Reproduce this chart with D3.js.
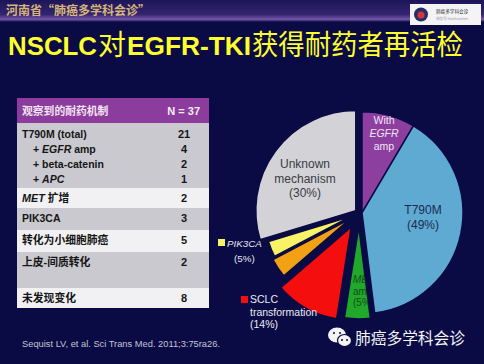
<!DOCTYPE html>
<html>
<head>
<meta charset="utf-8">
<script src="https://cdn.jsdelivr.net/npm/d3@7"></script>
<style>
body { margin: 0; background: #0a0a44; }
svg { display: block; }
</style>
</head>
<body>
<svg id="chart" width="484" height="364"></svg>
<script>
// ---- data ----
var bannerText = "河南省“肺癌多学科会诊”";
var titleParts = ["NSCLC", "对", "EGFR-TKI", "获得耐药者再活检"];
var tableHead = ["观察到的耐药机制", "N = 37"];
var mechanisms = ["T790M (total)", "+ *EGFR* amp", "+ beta-catenin", "+ *APC*", "*MET* 扩增", "PIK3CA", "转化为小细胞肺癌", "上皮-间质转化", "未发现变化"];
var counts = [21, 4, 2, 1, 2, 3, 5, 2, 8];
var rowBlock = [0, 0, 0, 0, 1, 2, 3, 4, 5]; // shaded block each line sits in

var sliceNames = ["EGFR amp", "T790M", "MET amp", "SCLC", "EMT", "PIK3CA", "Unknown"];
var sliceShares = [8.5, 39.5, 4.5, 11.2, 3.6, 3.0, 29.7];
var sliceColors = ["#8d3f9f", "#5eaad3", "#1fa82a", "#f40e0e", "#f2a114", "#f7f266", "#d3d3d7"];

var labelEgfr = ["With", "*EGFR*", "amp"];
var labelT790 = ["T790M", "(49%)"];
var labelUnknown = ["Unknown", "mechanism", "(30%)"];
var labelPik = ["*PIK3CA*", "(5%)"];
var labelMet = ["*MET*", "amp", "(5%)"];
var labelSclc = ["SCLC", "transformation", "(14%)"];

var sourceText = "Sequist LV, et al. Sci Trans Med. 2011;3:75ra26.";
var watermark = "肺癌多学科会诊";

var LATIN = "'Liberation Sans', Arial, sans-serif";
var CJK = "'Noto Sans CJK SC', sans-serif";
var bg = "#0a0a44";

var svg = d3.select("#chart");
var defs = svg.append("defs");

svg.append("rect").attr("width", 484).attr("height", 364).attr("fill", bg);

// top banner
var grad = defs.append("linearGradient").attr("id", "band").attr("x1", 0).attr("x2", 0).attr("y1", 0).attr("y2", 1);
grad.append("stop").attr("offset", "0%").attr("stop-color", "#1c1658");
grad.append("stop").attr("offset", "65%").attr("stop-color", "#33246f");
grad.append("stop").attr("offset", "88%").attr("stop-color", "#7356a6");
grad.append("stop").attr("offset", "100%").attr("stop-color", bg);
svg.append("rect").attr("x", 0).attr("y", 0).attr("width", 484).attr("height", 22).attr("fill", "url(#band)");

svg.append("text")
  .attr("x", 6).attr("y", 15)
  .attr("font-family", CJK).attr("font-weight", "bold").attr("font-size", 12)
  .attr("fill", "#d6b679")
  .text(bannerText);

// little logo box top right
var logo = svg.append("g");
logo.append("rect").attr("x", 410).attr("y", 4).attr("width", 71).attr("height", 21).attr("fill", "#f4f4f6");
logo.append("circle").attr("cx", 421).attr("cy", 14.5).attr("r", 7).attr("fill", "#24306a");
logo.append("circle").attr("cx", 421).attr("cy", 15).attr("r", 3.5).attr("fill", "#d8343a");
logo.append("text").attr("x", 436).attr("y", 12.5).attr("font-family", CJK).attr("font-size", 4.6)
  .attr("fill", "#333").text("肺癌多学科会诊");
logo.append("text").attr("x", 436).attr("y", 20).attr("font-family", CJK).attr("font-size", 3.6)
  .attr("fill", "#999").text("微信号  feiaihuizhen");

// title: latin bold, CJK regular; each run squeezed into the width it has on the slide
var titleWidths = [89, 28, 124, 211];
var tx = 8;
titleParts.forEach(function(part, i) {
  var cjk = /[\u4e00-\u9fff]/.test(part);
  svg.append("text")
    .attr("x", tx).attr("y", 55)
    .attr("font-family", cjk ? CJK : LATIN)
    .attr("font-weight", cjk ? "normal" : "bold")
    .attr("font-size", cjk ? 28 : 26)
    .attr("textLength", titleWidths[i]).attr("lengthAdjust", "spacingAndGlyphs")
    .attr("fill", "#ffff2e")
    .text(part);
  tx += titleWidths[i] + 1;
});

// writes "a *b* c" with the starred parts in italics
function richText(sel, str) {
  str.split("*").forEach(function(p, i) {
    if (p === "") return;
    var t = sel.append("tspan").text(p);
    if (i % 2 === 1) t.attr("font-style", "italic");
  });
  return sel;
}

// ---- table ----
var tx0 = 17, tx1 = 209, valX = 184;
var blockTops = [123, 188, 208, 230, 252, 288, 308];
var blockFill = ["#c9c9cf", "#f1f1f3"];

svg.append("rect").attr("x", tx0).attr("y", 98).attr("width", tx1 - tx0).attr("height", 25).attr("fill", "#8c3c9d");
svg.append("text").attr("x", 22).attr("y", 115)
  .attr("font-family", CJK).attr("font-weight", "bold").attr("font-size", 10.8)
  .attr("fill", "#f3e6f4").text(tableHead[0]);
svg.append("text").attr("x", 200).attr("y", 115).attr("text-anchor", "end")
  .attr("font-family", LATIN).attr("font-weight", "bold").attr("font-size", 11)
  .attr("fill", "#f6f0f8").text(tableHead[1]);

d3.range(blockTops.length - 1).forEach(function(b) {
  svg.append("rect")
    .attr("x", tx0).attr("y", blockTops[b])
    .attr("width", tx1 - tx0).attr("height", blockTops[b + 1] - blockTops[b])
    .attr("fill", blockFill[b % 2]);
});

var lineInBlock = {};
mechanisms.forEach(function(m, i) {
  var b = rowBlock[i];
  var k = lineInBlock[b] || 0;
  lineInBlock[b] = k + 1;
  var y = blockTops[b] + (b === 0 ? 15 : 14) + k * 15;
  var indent = m.charAt(0) === "+" ? 11 : 0;
  var cjk = /[\u4e00-\u9fff]/.test(m);
  var t = svg.append("text").attr("x", 22 + indent).attr("y", y)
    .attr("font-family", cjk ? LATIN + ", " + CJK : LATIN)
    .attr("font-weight", "bold").attr("font-size", cjk ? 10.8 : 10.5)
    .attr("fill", "#161616");
  richText(t, m);
  svg.append("text").attr("x", valX).attr("y", y).attr("text-anchor", "middle")
    .attr("font-family", LATIN).attr("font-weight", "bold").attr("font-size", 11)
    .attr("fill", "#161616").text(counts[i]);
});

// ---- pie ----
// the slide's pie is pulled apart unevenly: the lower-left wedges sit further out and a bit smaller
var cx = 359, cy = 213;
var radii = [101, 101, 92, 93, 87, 85, 100];
var explode = [3, 3, 14, 16, 11, 10, 4];
var pie = d3.pie().sort(null).value(function(d) { return d; })(sliceShares);
var arc = d3.arc().innerRadius(0).outerRadius(function(d, i) { return radii[d.index]; });
// T790M and its EGFR amp sub-slice move out together, the rest on their own
var groupMid = (pie[0].startAngle + pie[1].endAngle) / 2;
function shift(d, i) {
  var a = i < 2 ? groupMid : (d.startAngle + d.endAngle) / 2;
  return [Math.sin(a) * explode[i], -Math.cos(a) * explode[i]];
}

var pg = svg.append("g").attr("transform", "translate(" + cx + "," + cy + ")");
pg.selectAll("path.slice")
  .data(pie)
  .join("path")
  .attr("class", "slice")
  .attr("d", arc)
  .attr("transform", function(d, i) { return "translate(" + shift(d, i) + ")"; })
  .attr("fill", function(d, i) { return sliceColors[i]; })
  .attr("stroke", bg)
  .attr("stroke-width", 1.5);

// MET label sits under the blue wedge, so clip it to the green wedge
var metIdx = sliceNames.indexOf("MET amp");
var metShift = shift(pie[metIdx], metIdx);
defs.append("clipPath").attr("id", "metClip")
  .append("path")
  .attr("d", arc(pie[metIdx]))
  .attr("transform", "translate(" + (cx + metShift[0]) + "," + (cy + metShift[1]) + ")");

function block(lines, x, y0, lh, opts) {
  var g = svg.append("g");
  if (opts.clip) g.attr("clip-path", "url(#" + opts.clip + ")");
  lines.forEach(function(l, i) {
    var t = g.append("text")
      .attr("x", Array.isArray(x) ? x[i] : x).attr("y", y0 + i * lh)
      .attr("text-anchor", opts.anchor || "start")
      .attr("font-family", LATIN).attr("font-size", opts.size)
      .attr("fill", opts.color);
    richText(t, l);
  });
}

block(labelEgfr, 384, 124, 13, { anchor: "middle", size: 10.5, color: "#f1e4f4" });
block(labelT790, 423, 214, 14.5, { anchor: "middle", size: 12, color: "#1d2a4e" });
block(labelUnknown, 305, 168, 14.5, { anchor: "middle", size: 12, color: "#3a3a44" });
block(labelMet, 353, 283, 11.5, { size: 10, color: "#184a1a", clip: "metClip" });

svg.append("rect").attr("x", 218).attr("y", 239).attr("width", 7).attr("height", 7)
  .attr("fill", sliceColors[sliceNames.indexOf("PIK3CA")]);
block(labelPik, [227, 234], 247, 15, { size: 9.8, color: "#e8e8f0" });

svg.append("rect").attr("x", 241).attr("y", 296).attr("width", 7).attr("height", 7)
  .attr("fill", sliceColors[sliceNames.indexOf("SCLC")]);
block(labelSclc, [250, 250, 250], 303, 12.5, { size: 10.5, color: "#ececf2" });

// ---- footer ----
svg.append("text").attr("x", 22).attr("y", 347)
  .attr("font-family", LATIN).attr("font-size", 9.6)
  .attr("textLength", 198).attr("lengthAdjust", "spacingAndGlyphs")
  .attr("fill", "#c4c4d4").text(sourceText);

// wechat watermark
var wm = svg.append("g");
wm.append("ellipse").attr("cx", 337).attr("cy", 335).attr("rx", 9).attr("ry", 7.5).attr("fill", "#f4f4f4");
wm.append("ellipse").attr("cx", 344.5).attr("cy", 340.5).attr("rx", 7).attr("ry", 6)
  .attr("fill", "#f4f4f4").attr("stroke", bg).attr("stroke-width", 1.2);
[[334, 333], [340, 333], [342, 340], [347, 340]].forEach(function(p) {
  wm.append("circle").attr("cx", p[0]).attr("cy", p[1]).attr("r", 1).attr("fill", bg);
});
wm.append("text").attr("x", 355).attr("y", 344)
  .attr("font-family", CJK).attr("font-size", 16)
  .attr("textLength", 110).attr("lengthAdjust", "spacingAndGlyphs")
  .attr("fill", "#f4f4f6").text(watermark);
</script>
</body>
</html>
